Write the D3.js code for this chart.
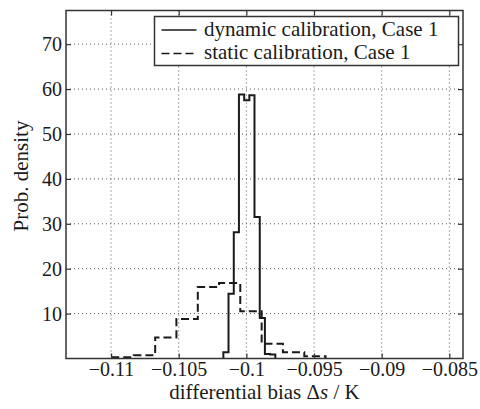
<!DOCTYPE html>
<html>
<head>
<meta charset="utf-8">
<script src="https://cdn.jsdelivr.net/npm/d3@7"></script>
<style>
  html, body { margin: 0; padding: 0; background: #fff; }
  svg { display: block; }
  text { font-family: "Liberation Serif", "Times New Roman", serif; fill: #1a1a1a; }
</style>
</head>
<body>
<svg id="chart" width="480" height="409"></svg>
<script>
// Axis ticks
const xTicks = [-0.11, -0.105, -0.1, -0.095, -0.09, -0.085];
const xTickLabels = ["\u22120.11", "\u22120.105", "\u22120.1", "\u22120.095", "\u22120.09", "\u22120.085"];
const yTicks = [10, 20, 30, 40, 50, 60, 70];

// Dynamic calibration histogram: bin edges and densities
const dynamicEdges = [-0.10170, -0.10132, -0.10093, -0.10055, -0.10016, -0.09978,
                      -0.09940, -0.09901, -0.09863, -0.09824, -0.09786];
const dynamicDensity = [1.4, 14.4, 28.1, 58.8, 57.5, 58.6, 31.5, 9.0, 1.0, 0.9];

// Static calibration histogram: bin edges and densities
const staticEdges = [-0.10989, -0.10832, -0.10674, -0.10517, -0.10359, -0.10202,
                     -0.10045, -0.09887, -0.09730, -0.09572, -0.09415];
const staticDensity = [0.3, 0.7, 4.7, 8.8, 15.9, 16.8, 10.5, 3.3, 1.4, 0.5];

const seriesNames = ["dynamic calibration, Case 1", "static calibration, Case 1"];

const W = 480, H = 409;
const margin = { left: 66, right: 17, top: 10.5, bottom: 50.5 };
const pw = W - margin.left - margin.right;
const ph = H - margin.top - margin.bottom;

const svg = d3.select("#chart");
const g = svg.append("g").attr("transform", `translate(${margin.left},${margin.top})`);

const x = d3.scaleLinear().domain([-0.11333, -0.08399]).range([0, pw]);
const y = d3.scaleLinear().domain([0, 77.5]).range([ph, 0]);

// Dotted grid
const grid = g.append("g").attr("stroke", "#555").attr("stroke-width", 1)
  .attr("stroke-dasharray", "1,3");
grid.selectAll("line.gx").data(xTicks).join("line")
  .attr("x1", d => x(d)).attr("x2", d => x(d)).attr("y1", 0).attr("y2", ph);
grid.selectAll("line.gy").data(yTicks).join("line")
  .attr("y1", d => y(d)).attr("y2", d => y(d)).attr("x1", 0).attr("x2", pw);

// Step outline of a histogram, closed on the baseline
function stepPath(edges, vals) {
  const pts = [[edges[0], 0]];
  vals.forEach((v, i) => { pts.push([edges[i], v]); pts.push([edges[i + 1], v]); });
  pts.push([edges[edges.length - 1], 0]);
  return d3.line().x(d => x(d[0])).y(d => y(d[1]))(pts);
}

g.append("path").attr("d", stepPath(staticEdges, staticDensity))
  .attr("fill", "none").attr("stroke", "#1a1a1a").attr("stroke-width", 2)
  .attr("stroke-dasharray", "8,4");
g.append("path").attr("d", stepPath(dynamicEdges, dynamicDensity))
  .attr("fill", "none").attr("stroke", "#1a1a1a").attr("stroke-width", 2);

// Axes with inward ticks on all four sides
const tickFs = 20, labelFs = 21;
const tickLen = 5;
const axB = g.append("g").attr("transform", `translate(0,${ph})`)
  .call(d3.axisBottom(x).tickValues(xTicks).tickSize(-tickLen).tickPadding(3.5)
    .tickFormat((d, i) => xTickLabels[i]));
const axT = g.append("g")
  .call(d3.axisTop(x).tickValues(xTicks).tickSize(-tickLen).tickFormat(""));
const axL = g.append("g")
  .call(d3.axisLeft(y).tickValues(yTicks).tickSize(-tickLen).tickPadding(4));
const axR = g.append("g").attr("transform", `translate(${pw},0)`)
  .call(d3.axisRight(y).tickValues(yTicks).tickSize(-tickLen).tickFormat(""));
[axB, axT, axL, axR].forEach(a => {
  a.attr("font-family", null).attr("font-size", null);
  a.select(".domain").remove();
  a.selectAll(".tick line").attr("stroke", "#333").attr("stroke-width", 1.2);
  a.selectAll("text").attr("font-size", tickFs).attr("fill", "#1a1a1a");
});

// Plot frame
g.append("rect").attr("x", 0).attr("y", 0).attr("width", pw).attr("height", ph)
  .attr("fill", "none").attr("stroke", "#333").attr("stroke-width", 1.5);

// Axis titles
const xt = svg.append("text").attr("x", margin.left + pw / 2).attr("y", 399)
  .attr("text-anchor", "middle").attr("font-size", labelFs);
xt.append("tspan").text("differential bias \u0394");
xt.append("tspan").attr("font-style", "italic").text("s");
xt.append("tspan").text(" / K");

svg.append("text").attr("transform", "translate(28,176) rotate(-90)")
  .attr("text-anchor", "middle").attr("font-size", labelFs).text("Prob. density");

// Legend
const lg = g.append("g").attr("transform", `translate(${154.5 - margin.left},${16.5 - margin.top})`);
lg.append("rect").attr("width", 304).attr("height", 49)
  .attr("fill", "#fff").attr("stroke", "#333").attr("stroke-width", 1.5);
const rows = [{ name: seriesNames[0], dash: null }, { name: seriesNames[1], dash: "8,4" }];
rows.forEach((r, i) => {
  const yy = 13.5 + i * 23.5;
  lg.append("line").attr("x1", 7).attr("x2", 42).attr("y1", yy).attr("y2", yy)
    .attr("stroke", "#1a1a1a").attr("stroke-width", 1.5)
    .attr("stroke-dasharray", r.dash);
  lg.append("text").attr("x", 49.5).attr("y", yy + 5.5).attr("font-size", labelFs).text(r.name);
});
</script>
</body>
</html>
